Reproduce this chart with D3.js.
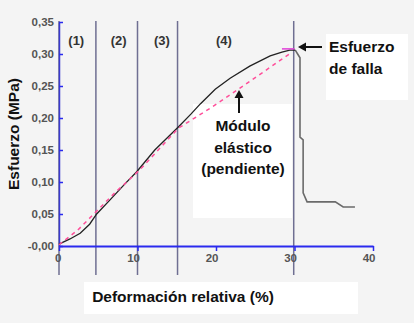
<!DOCTYPE html>
<html>
<head>
<meta charset="utf-8">
<script src="https://cdn.jsdelivr.net/npm/d3@7"></script>
<style>
  body { margin: 0; background: #f4f4f4; }
  svg { display: block; font-family: "Liberation Sans", Arial, sans-serif; }
  .tick text { fill: #555; font-size: 11.5px; font-weight: bold; }
  .note { font-size: 15.5px; font-weight: bold; fill: #111; }
</style>
</head>
<body>
<div id="chart"></div>
<script>
// Stress-strain curve (strain %, stress MPa).
var strain = [0, 1.4, 2.7, 3.9, 4.8, 6.5, 8.4, 9.9, 12.2, 15.2, 16.8, 18.0, 19.9, 21.8, 24.3, 26.9, 28.4, 29.4, 30.1];
var stress = [0.003, 0.011, 0.020, 0.034, 0.050, 0.072, 0.097, 0.116, 0.150, 0.186, 0.206, 0.222, 0.245, 0.262, 0.281, 0.297, 0.303, 0.306, 0.306];

// After failure.
var failStrain = [30.1, 30.4, 30.7, 30.7, 31.1, 31.1, 31.6, 35.2, 36.2, 37.7];
var failStress = [0.306, 0.300, 0.294, 0.170, 0.166, 0.083, 0.069, 0.069, 0.061, 0.061];

// Dashed "modulus" line.
var modStrain = [0, 2.4, 4.6, 7.1, 10.3, 15.2, 19.6, 23.1, 29.7];
var modStress = [0.002, 0.025, 0.052, 0.083, 0.119, 0.184, 0.218, 0.247, 0.303];

// Peak marker segment.
var peakStrain = [28.4, 30.0];
var peakStress = [0.308, 0.308];

// Region boundaries and labels.
var regionX = [0, 4.7, 10, 15.1, 29.9];
var regionLabels = ["(1)", "(2)", "(3)", "(4)"];
var regionLabelX = [2.2, 7.6, 13.1, 21.0];

var xTicks = [0, 10, 20, 30, 40];
var yTicks = [0, 0.05, 0.10, 0.15, 0.20, 0.25, 0.30, 0.35];
var yTickLabels = ["-0,00", "0,05", "0,10", "0,15", "0,20", "0,25", "0,30", "0,35"];

var width = 414, height = 323;

var svg = d3.select("#chart").append("svg")
    .attr("width", width)
    .attr("height", height);

var x = d3.scaleLinear().domain([0, 40]).range([59, 373]);
var y = d3.scaleLinear().domain([0, 0.35]).range([246, 22]);

// White boxes behind the notes.
svg.append("rect").attr("x", 193).attr("y", 104).attr("width", 99).attr("height", 114).attr("fill", "#fff");
svg.append("rect").attr("x", 326).attr("y", 34).attr("width", 82).attr("height", 66).attr("fill", "#fff");
svg.append("rect").attr("x", 84).attr("y", 282).attr("width", 274).attr("height", 32).attr("fill", "#fff");

// Region lines.
svg.selectAll(".region")
    .data(regionX)
    .enter().append("line")
    .attr("class", "region")
    .attr("x1", d => x(d)).attr("x2", d => x(d))
    .attr("y1", y(0.35) - 1).attr("y2", 275)
    .attr("stroke", "#6f6f92")
    .attr("stroke-width", 1.5);

svg.selectAll(".rlabel")
    .data(regionLabels)
    .enter().append("text")
    .attr("class", "rlabel")
    .attr("x", (d, i) => x(regionLabelX[i]))
    .attr("y", 45)
    .attr("text-anchor", "middle")
    .attr("font-size", "13px")
    .attr("font-weight", "bold")
    .attr("fill", "#333")
    .text(d => d);

// Axes.
var yAxis = d3.axisLeft(y)
    .tickValues(yTicks)
    .tickFormat((d, i) => yTickLabels[i])
    .tickSizeInner(-4)
    .tickSizeOuter(0)
    .tickPadding(5);

var gy = svg.append("g")
    .attr("transform", "translate(" + x(0) + ",0)")
    .call(yAxis);
gy.select(".domain").attr("stroke", "#3a3ad0").attr("stroke-width", 1.5);
gy.selectAll(".tick line").attr("stroke", "#2a2aee").attr("stroke-width", 1.5);

var xAxis = d3.axisBottom(x)
    .tickValues(xTicks)
    .tickFormat(d3.format("d"))
    .tickSizeInner(5)
    .tickSizeOuter(0)
    .tickPadding(3);

var gx = svg.append("g")
    .attr("transform", "translate(0," + y(0) + ")")
    .call(xAxis);
gx.select(".domain").attr("stroke", "#2a2aee").attr("stroke-width", 2);
gx.selectAll(".tick line").attr("stroke", "#2a2aee").attr("stroke-width", 1.5);
gx.selectAll(".tick text").attr("text-anchor", "end").attr("dx", "2");

// Lines.
var line = d3.line().x(d => x(d[0])).y(d => y(d[1]));

svg.append("path")
    .datum(d3.zip(failStrain, failStress))
    .attr("d", line)
    .attr("fill", "none")
    .attr("stroke", "#6a6a6a")
    .attr("stroke-width", 1.6);

svg.append("path")
    .datum(d3.zip(strain, stress))
    .attr("d", line)
    .attr("fill", "none")
    .attr("stroke", "#222")
    .attr("stroke-width", 1.3);

svg.append("path")
    .datum(d3.zip(modStrain, modStress))
    .attr("d", line)
    .attr("fill", "none")
    .attr("stroke", "#ff4f9a")
    .attr("stroke-width", 1.5)
    .attr("stroke-dasharray", "4,4");

svg.append("path")
    .datum(d3.zip(peakStrain, peakStress))
    .attr("d", line)
    .attr("fill", "none")
    .attr("stroke", "#e040d8")
    .attr("stroke-width", 1.5);

// Arrows.
svg.append("line").attr("x1", 322).attr("y1", 47).attr("x2", 303).attr("y2", 47)
    .attr("stroke", "#111").attr("stroke-width", 2);
svg.append("path").attr("d", "M298,47 L306,42.5 L306,51.5 Z").attr("fill", "#111");

svg.append("line").attr("x1", 239).attr("y1", 113).attr("x2", 239).attr("y2", 95)
    .attr("stroke", "#111").attr("stroke-width", 2);
svg.append("path").attr("d", "M239,90 L234.5,98 L243.5,98 Z").attr("fill", "#111");

// Notes.
svg.append("text").attr("class", "note").attr("x", 329).attr("y", 52).text("Esfuerzo");
svg.append("text").attr("class", "note").attr("x", 329).attr("y", 74).text("de falla");

var mod = ["Módulo", "elástico", "(pendiente)"];
svg.selectAll(".mod")
    .data(mod)
    .enter().append("text")
    .attr("class", "note")
    .attr("x", 243)
    .attr("y", (d, i) => 131 + i * 21.5)
    .attr("text-anchor", "middle")
    .text(d => d);

// Axis titles.
svg.append("text")
    .attr("class", "note")
    .attr("x", 183)
    .attr("y", 302)
    .attr("text-anchor", "middle")
    .text("Deformación relativa (%)");

svg.append("text")
    .attr("class", "note")
    .attr("transform", "translate(19,134) rotate(-90)")
    .attr("text-anchor", "middle")
    .text("Esfuerzo (MPa)");
</script>
</body>
</html>
